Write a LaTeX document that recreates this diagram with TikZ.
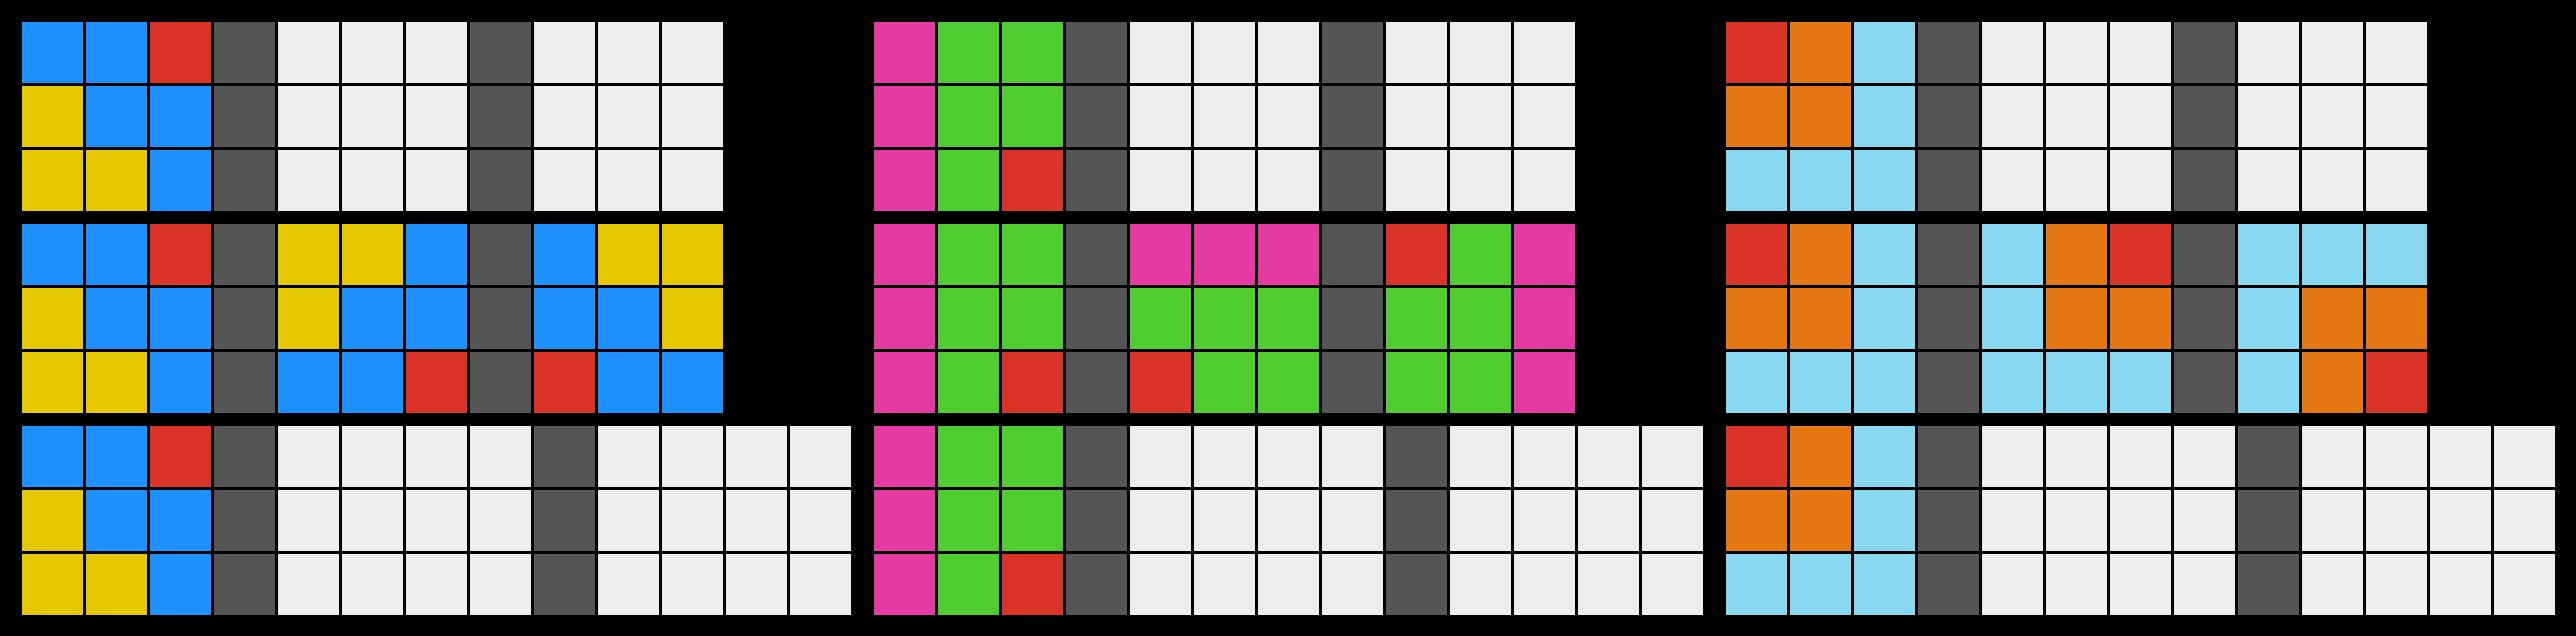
\documentclass[tikz,border=0pt]{standalone}
\definecolor{cB}{RGB}{30,144,255}
\definecolor{cR}{RGB}{220,51,40}
\definecolor{cY}{RGB}{230,200,0}
\definecolor{cK}{RGB}{85,85,85}
\definecolor{cW}{RGB}{238,238,238}
\definecolor{cM}{RGB}{229,58,163}
\definecolor{cG}{RGB}{79,204,48}
\definecolor{cO}{RGB}{229,120,18}
\definecolor{cL}{RGB}{135,216,240}
\newcommand{\gridrow}[3]{%
  \foreach \cc [count=\ii from 0] in {#3} {%
    \fill[fill=c\cc] ({#1+64*\ii},{#2}) rectangle ++(61,61);%
  }%
}
\begin{document}
\begin{tikzpicture}[x=1pt,y=-1pt]
\fill[black] (0,0) rectangle (2576,636);
\useasboundingbox (0,0) rectangle (2576,636);
% Panel 1
\gridrow{22}{22}{B,B,R,K,W,W,W,K,W,W,W}
\gridrow{22}{86}{Y,B,B,K,W,W,W,K,W,W,W}
\gridrow{22}{150}{Y,Y,B,K,W,W,W,K,W,W,W}
\gridrow{22}{224}{B,B,R,K,Y,Y,B,K,B,Y,Y}
\gridrow{22}{288}{Y,B,B,K,Y,B,B,K,B,B,Y}
\gridrow{22}{352}{Y,Y,B,K,B,B,R,K,R,B,B}
\gridrow{22}{426}{B,B,R,K,W,W,W,W,K,W,W,W,W}
\gridrow{22}{490}{Y,B,B,K,W,W,W,W,K,W,W,W,W}
\gridrow{22}{554}{Y,Y,B,K,W,W,W,W,K,W,W,W,W}
% Panel 2
\gridrow{874}{22}{M,G,G,K,W,W,W,K,W,W,W}
\gridrow{874}{86}{M,G,G,K,W,W,W,K,W,W,W}
\gridrow{874}{150}{M,G,R,K,W,W,W,K,W,W,W}
\gridrow{874}{224}{M,G,G,K,M,M,M,K,R,G,M}
\gridrow{874}{288}{M,G,G,K,G,G,G,K,G,G,M}
\gridrow{874}{352}{M,G,R,K,R,G,G,K,G,G,M}
\gridrow{874}{426}{M,G,G,K,W,W,W,W,K,W,W,W,W}
\gridrow{874}{490}{M,G,G,K,W,W,W,W,K,W,W,W,W}
\gridrow{874}{554}{M,G,R,K,W,W,W,W,K,W,W,W,W}
% Panel 3
\gridrow{1726}{22}{R,O,L,K,W,W,W,K,W,W,W}
\gridrow{1726}{86}{O,O,L,K,W,W,W,K,W,W,W}
\gridrow{1726}{150}{L,L,L,K,W,W,W,K,W,W,W}
\gridrow{1726}{224}{R,O,L,K,L,O,R,K,L,L,L}
\gridrow{1726}{288}{O,O,L,K,L,O,O,K,L,O,O}
\gridrow{1726}{352}{L,L,L,K,L,L,L,K,L,O,R}
\gridrow{1726}{426}{R,O,L,K,W,W,W,W,K,W,W,W,W}
\gridrow{1726}{490}{O,O,L,K,W,W,W,W,K,W,W,W,W}
\gridrow{1726}{554}{L,L,L,K,W,W,W,W,K,W,W,W,W}
\end{tikzpicture}
\end{document}
